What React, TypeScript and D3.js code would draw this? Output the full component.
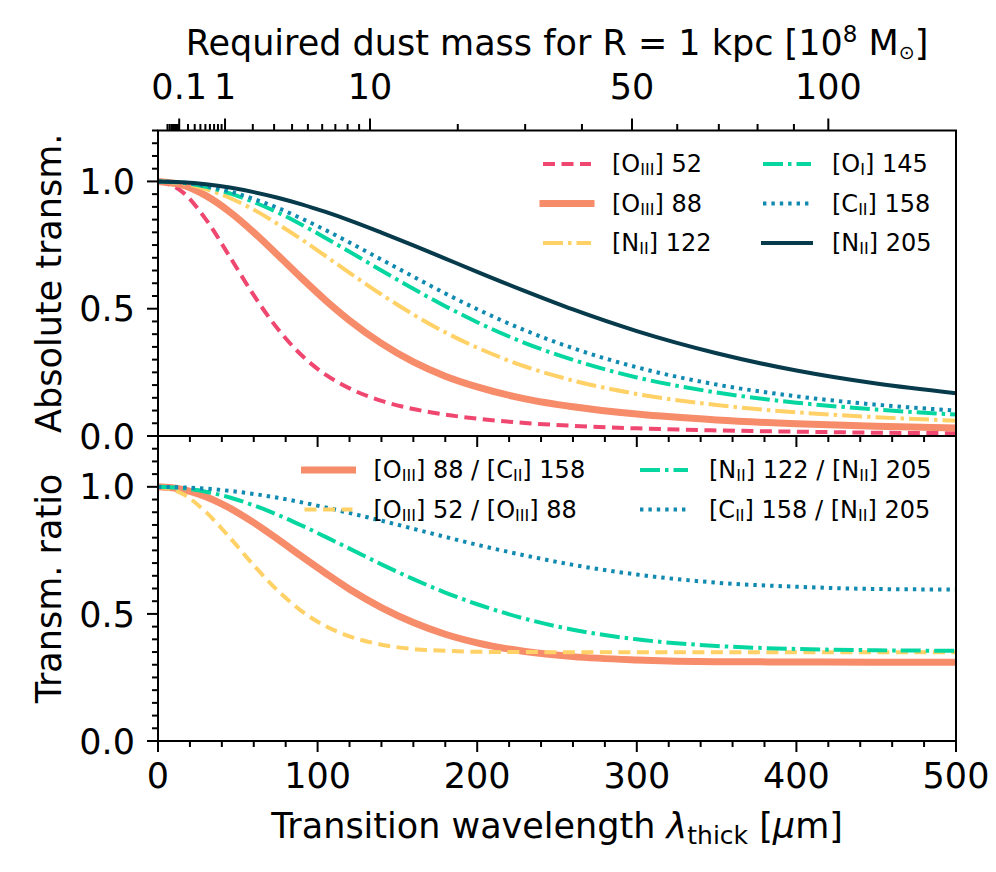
import React from 'react';
import * as d3 from 'd3';

// transition wavelength grid [micron]
const WAVE = [0, 15, 30, 45, 60, 75, 90, 105, 120, 140, 160, 180, 200, 230, 260, 300, 350, 400, 450, 500];

// absolute transmission
const T_OIII52 = [1, 0.960, 0.851, 0.704, 0.553, 0.421, 0.317, 0.241, 0.187, 0.138, 0.106, 0.084, 0.068, 0.051, 0.040, 0.030, 0.022, 0.017, 0.013, 0.011];
const T_OIII88 = [1, 0.986, 0.944, 0.880, 0.800, 0.711, 0.620, 0.533, 0.454, 0.364, 0.291, 0.235, 0.193, 0.146, 0.115, 0.086, 0.063, 0.048, 0.038, 0.031];
const T_NII122 = [1, 0.993, 0.970, 0.935, 0.889, 0.833, 0.772, 0.707, 0.641, 0.556, 0.477, 0.407, 0.347, 0.273, 0.218, 0.165, 0.122, 0.093, 0.074, 0.060];
const T_OI145 = [1, 0.995, 0.979, 0.953, 0.919, 0.878, 0.830, 0.778, 0.724, 0.650, 0.578, 0.510, 0.447, 0.365, 0.299, 0.230, 0.171, 0.131, 0.104, 0.084];
const T_CII158 = [1, 0.996, 0.982, 0.961, 0.931, 0.896, 0.854, 0.809, 0.760, 0.693, 0.626, 0.560, 0.498, 0.415, 0.345, 0.270, 0.202, 0.156, 0.123, 0.100];
const T_NII205 = [1, 0.997, 0.989, 0.976, 0.958, 0.936, 0.910, 0.880, 0.847, 0.799, 0.749, 0.697, 0.645, 0.569, 0.497, 0.412, 0.325, 0.257, 0.206, 0.168];

// transmission ratios
const R_88_158 = [1, 0.990, 0.961, 0.916, 0.859, 0.794, 0.726, 0.660, 0.597, 0.525, 0.466, 0.420, 0.386, 0.352, 0.332, 0.319, 0.312, 0.311, 0.310, 0.310];
const R_52_88 = [1, 0.974, 0.901, 0.800, 0.691, 0.592, 0.511, 0.452, 0.412, 0.379, 0.362, 0.355, 0.351, 0.350, 0.349, 0.349, 0.349, 0.349, 0.349, 0.349];
const R_122_205 = [1, 0.995, 0.981, 0.958, 0.927, 0.890, 0.848, 0.803, 0.757, 0.695, 0.637, 0.584, 0.538, 0.481, 0.438, 0.400, 0.374, 0.362, 0.357, 0.355];
const R_158_205 = [1, 0.998, 0.993, 0.984, 0.972, 0.957, 0.939, 0.919, 0.897, 0.867, 0.835, 0.803, 0.772, 0.730, 0.693, 0.655, 0.623, 0.607, 0.598, 0.596];

// ticks
const X_TICKS = [0, 100, 200, 300, 400, 500];
const Y_TICKS = [0, 0.5, 1.0];
const MASS_MAJOR = [0.1, 1, 10, 50, 100];
const MASS_LABELS = ['0.1', '1', '10', '50', '100'];
const MASS_MINOR = [0.02, 0.03, 0.04, 0.05, 0.06, 0.07, 0.08, 0.09, 0.2, 0.3, 0.4, 0.5, 0.6, 0.7, 0.8, 0.9,
  2, 3, 4, 5, 6, 7, 8, 9, 20, 30, 40, 60, 70, 80, 90];
const WAVE_PER_SQRT_MASS = 42; // lambda_thick = 42 * sqrt(M / 1e8 Msun)

type Seg = { t: string; sub?: boolean };

const C = {
  pink: '#ef476f', coral: '#f78c6b', yellow: '#ffd166',
  green: '#06d6a0', blue: '#118ab2', navy: '#073b4c',
};
const DASHED = '12 6.5';
const DASHDOT = '20 5 3.5 5';
const DOTTED = '3.4 5';

const TOP_SERIES = [
  { values: T_OIII52, color: C.pink, w: 4, dash: DASHED, label: [{ t: '[O' }, { t: 'III', sub: true }, { t: '] 52' }] },
  { values: T_OIII88, color: C.coral, w: 7, dash: null, label: [{ t: '[O' }, { t: 'III', sub: true }, { t: '] 88' }] },
  { values: T_NII122, color: C.yellow, w: 4, dash: DASHDOT, label: [{ t: '[N' }, { t: 'II', sub: true }, { t: '] 122' }] },
  { values: T_OI145, color: C.green, w: 4, dash: DASHDOT, label: [{ t: '[O' }, { t: 'I', sub: true }, { t: '] 145' }] },
  { values: T_CII158, color: C.blue, w: 4, dash: DOTTED, label: [{ t: '[C' }, { t: 'II', sub: true }, { t: '] 158' }] },
  { values: T_NII205, color: C.navy, w: 4, dash: null, label: [{ t: '[N' }, { t: 'II', sub: true }, { t: '] 205' }] },
];

const BOT_SERIES = [
  { values: R_88_158, color: C.coral, w: 7, dash: null,
    label: [{ t: '[O' }, { t: 'III', sub: true }, { t: '] 88 / [C' }, { t: 'II', sub: true }, { t: '] 158' }] },
  { values: R_52_88, color: C.yellow, w: 4, dash: DASHED,
    label: [{ t: '[O' }, { t: 'III', sub: true }, { t: '] 52 / [O' }, { t: 'III', sub: true }, { t: '] 88' }] },
  { values: R_122_205, color: C.green, w: 4, dash: DASHDOT,
    label: [{ t: '[N' }, { t: 'II', sub: true }, { t: '] 122 / [N' }, { t: 'II', sub: true }, { t: '] 205' }] },
  { values: R_158_205, color: C.blue, w: 4, dash: DOTTED,
    label: [{ t: '[C' }, { t: 'II', sub: true }, { t: '] 158 / [N' }, { t: 'II', sub: true }, { t: '] 205' }] },
];

const FONT = '"DejaVu Sans", sans-serif';
const W = 996, H = 872;
const M = { left: 158, right: 956, top: 130.5, mid: 436, bottom: 741 };
const FS = 35, LFS = 24;

const x = d3.scaleLinear().domain([0, 500]).range([M.left, M.right]);
const yTop = d3.scaleLinear().domain([0, 1.2]).range([M.mid, M.top]);
const yBot = d3.scaleLinear().domain([0, 1.2]).range([M.bottom, M.mid]);
const massX = (m: number) => x(WAVE_PER_SQRT_MASS * Math.sqrt(m));

const pathFor = (vals: number[], ys: d3.ScaleLinear<number, number>) =>
  d3.line<number>().x((_, i) => x(WAVE[i])).y(d => ys(d)).curve(d3.curveMonotoneX)(vals) || '';

function Rich({ segs, x, y, size, subSize, shift, anchor = 'start' }:
  { segs: Seg[]; x: number; y: number; size: number; subSize: number; shift: number; anchor?: string }) {
  let cur = 0;
  return (
    <text x={x} y={y} fontSize={size} fontFamily={FONT} textAnchor={anchor} style={{ whiteSpace: 'pre' }}>
      {segs.map((s, i) => {
        const target = s.sub ? shift : 0;
        const dy = target - cur;
        cur = target;
        return <tspan key={i} dy={dy} fontSize={s.sub ? subSize : size}>{s.t}</tspan>;
      })}
    </text>
  );
}

function Legend({ items, lineLen, textGap, colX, rows, y0, dy }:
  { items: any[]; lineLen: number; textGap: number; colX: number[]; rows: number; y0: number; dy: number }) {
  return (
    <g>
      {items.map((s, i) => {
        const col = Math.floor(i / rows), row = i % rows;
        const lx = colX[col], ly = y0 + row * dy;
        return (
          <g key={i}>
            <line x1={lx} x2={lx + lineLen} y1={ly} y2={ly} stroke={s.color} strokeWidth={s.w}
              strokeDasharray={s.dash || undefined} strokeLinecap={s.dash ? 'butt' : 'square'} />
            <Rich segs={s.label} x={lx + lineLen + textGap} y={ly + 8.4} size={LFS} subSize={16} shift={3} />
          </g>
        );
      })}
    </g>
  );
}

export default function App() {
  const minorX = d3.range(0, 501, 20);
  const minorY = d3.range(0, 1.2001, 0.05);
  return (
    <svg width={W} height={H} style={{ position: 'absolute', left: 0, top: 0, background: '#fff' }}>
      <defs>
        <clipPath id="cTop"><rect x={M.left} y={M.top} width={M.right - M.left} height={M.mid - M.top} /></clipPath>
        <clipPath id="cBot"><rect x={M.left} y={M.mid} width={M.right - M.left} height={M.bottom - M.mid} /></clipPath>
      </defs>
      <rect width={W} height={H} fill="#fff" />

      {/* curves */}
      <g clipPath="url(#cTop)" fill="none" strokeLinejoin="round">
        {TOP_SERIES.map((s, i) => (
          <path key={i} d={pathFor(s.values, yTop)} stroke={s.color} strokeWidth={s.w}
            strokeDasharray={s.dash || undefined} strokeLinecap={s.dash ? 'butt' : 'square'} />
        ))}
      </g>
      <g clipPath="url(#cBot)" fill="none" strokeLinejoin="round">
        {BOT_SERIES.map((s, i) => (
          <path key={i} d={pathFor(s.values, yBot)} stroke={s.color} strokeWidth={s.w}
            strokeDasharray={s.dash || undefined} strokeLinecap={s.dash ? 'butt' : 'square'} />
        ))}
      </g>

      {/* spines */}
      <g fill="none" stroke="#000" strokeWidth={2}>
        <rect x={M.left} y={M.top} width={M.right - M.left} height={M.mid - M.top} />
        <rect x={M.left} y={M.mid} width={M.right - M.left} height={M.bottom - M.mid} />
      </g>

      {/* ticks */}
      <g stroke="#000" strokeWidth={2}>
        {[M.mid, M.bottom].map(yy => minorX.map(v => (
          <line key={yy + '-' + v} x1={x(v)} x2={x(v)} y1={yy} y2={yy + (X_TICKS.includes(v) ? 11 : 6)} />
        )))}
        {[yTop, yBot].map((ys, k) => minorY.map(v => {
          const major = Y_TICKS.some(t => Math.abs(t - v) < 1e-6);
          return <line key={k + '-' + v} x1={M.left} x2={M.left - (major ? 11 : 6)} y1={ys(v)} y2={ys(v)} />;
        }))}
        {MASS_MINOR.map(m => <line key={'mm' + m} x1={massX(m)} x2={massX(m)} y1={M.top} y2={M.top - 6.5} />)}
        {MASS_MAJOR.map(m => <line key={'mj' + m} x1={massX(m)} x2={massX(m)} y1={M.top} y2={M.top - 12} />)}
      </g>

      {/* tick labels */}
      <g fontFamily={FONT} fontSize={FS} fill="#000">
        {X_TICKS.map(v => <text key={v} x={x(v)} y={788} textAnchor="middle">{v}</text>)}
        {[yTop, yBot].map((ys, k) => Y_TICKS.map(v => (
          <text key={k + '-' + v} x={135} y={ys(v)} dy="0.36em" textAnchor="end">{v.toFixed(1)}</text>
        )))}
        {MASS_MAJOR.map((m, i) => <text key={m} x={massX(m)} y={99} textAnchor="middle">{MASS_LABELS[i]}</text>)}
      </g>

      {/* axis labels */}
      <text fontFamily={FONT} fontSize={FS} x={(M.left + M.right) / 2} y={55} textAnchor="middle" style={{ whiteSpace: 'pre' }}>
        <tspan>Required dust mass for R = 1 kpc [10</tspan>
        <tspan fontSize={23} dy={-13}>8</tspan>
        <tspan dy={13}> M</tspan>
        <tspan fontSize={19} dy={4}>⊙</tspan>
        <tspan dy={-4}>]</tspan>
      </text>
      <text fontFamily={FONT} fontSize={FS} x={(M.left + M.right) / 2} y={838} textAnchor="middle" style={{ whiteSpace: 'pre' }}>
        <tspan>Transition wavelength </tspan>
        <tspan fontStyle="italic">λ</tspan>
        <tspan fontSize={25} dy={6}>thick</tspan>
        <tspan dy={-6}> [</tspan>
        <tspan fontStyle="italic">μ</tspan>
        <tspan>m]</tspan>
      </text>
      <text fontFamily={FONT} fontSize={FS} textAnchor="middle"
        transform={`translate(61,${(M.top + M.mid) / 2}) rotate(-90)`}>Absolute transm.</text>
      <text fontFamily={FONT} fontSize={FS} textAnchor="middle"
        transform={`translate(61,${(M.mid + M.bottom) / 2}) rotate(-90)`}>Transm. ratio</text>

      {/* legends */}
      <Legend items={TOP_SERIES} lineLen={48} textGap={21} colX={[543, 763]} rows={3} y0={164} dy={39.5} />
      <Legend items={BOT_SERIES} lineLen={48} textGap={21} colX={[304.5, 640]} rows={2} y0={470} dy={39.5} />
    </svg>
  );
}
